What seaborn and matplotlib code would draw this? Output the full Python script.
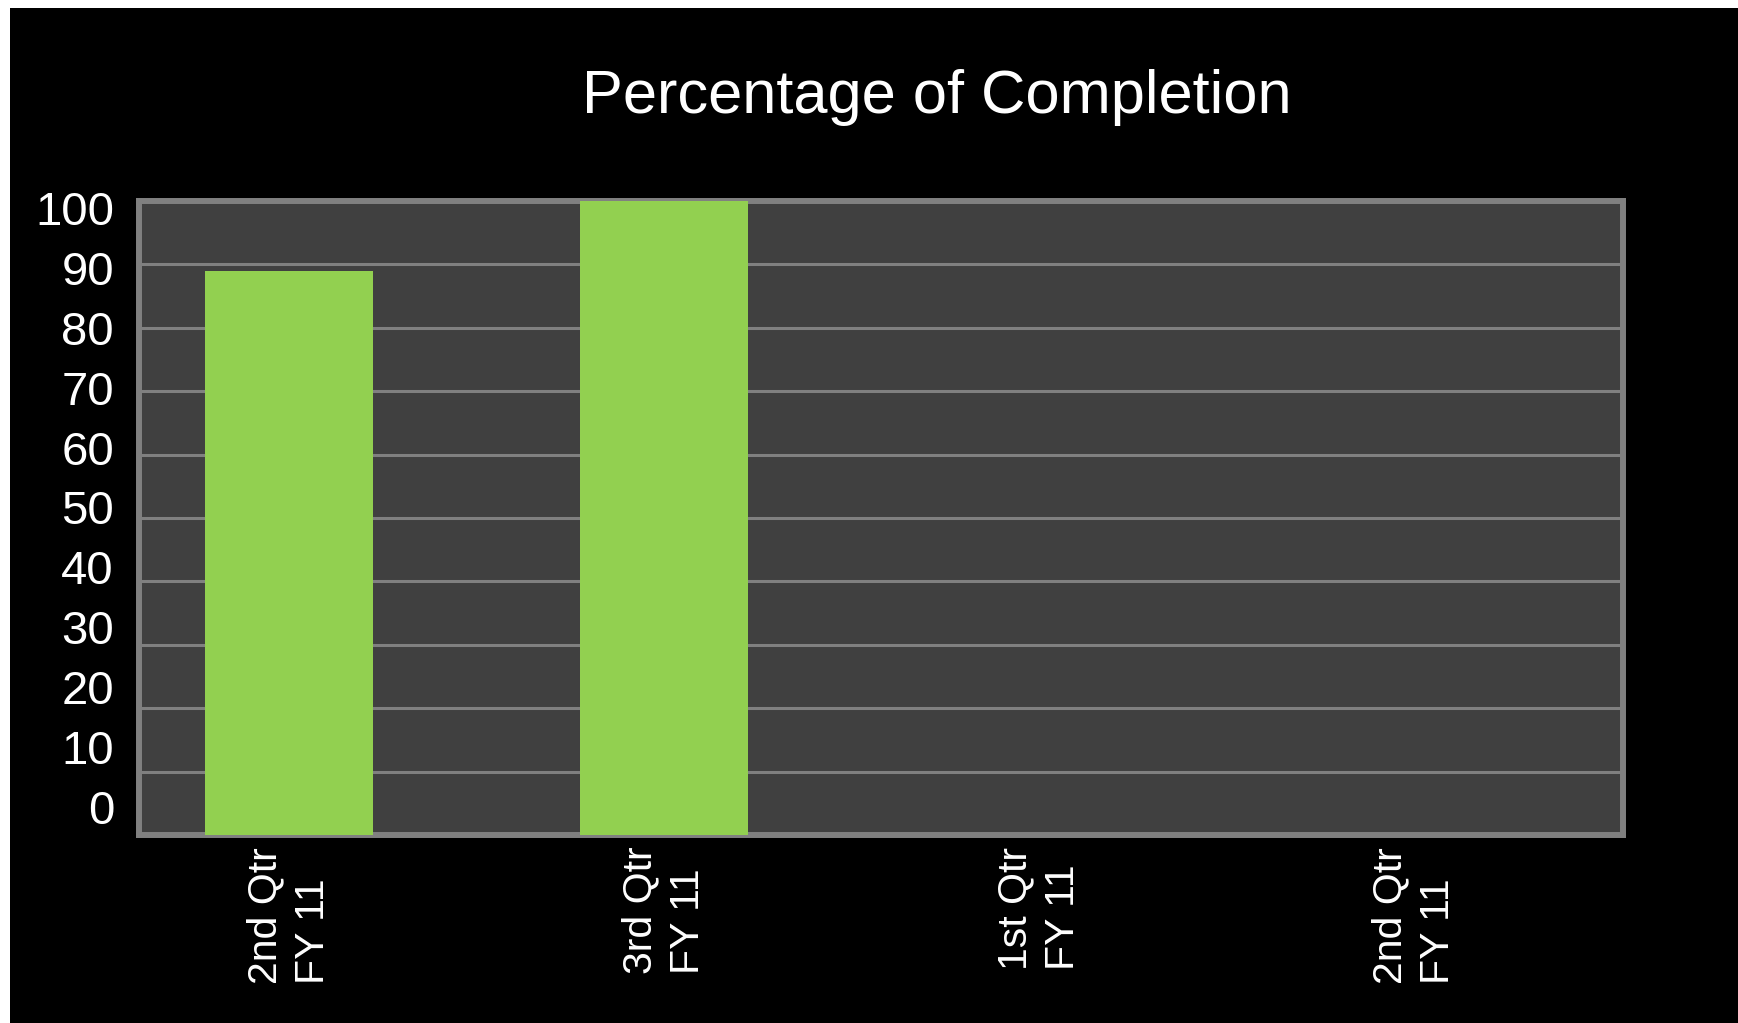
import numpy as np
import pandas as pd
import matplotlib
matplotlib.use("Agg")
import matplotlib.pyplot as plt
from matplotlib.patches import Rectangle
import seaborn as sns

# Data
quarters = ["2nd Qtr\nFY 11", "3rd Qtr\nFY 11", "1st Qtr\nFY 11", "2nd Qtr\nFY 11"]
completion = [89, 100, np.nan, np.nan]
y_ticks = list(range(0, 101, 10))

slot = list(range(len(quarters)))
df = pd.DataFrame({"slot": slot, "completion": completion})

sns.set_style("dark")
plt.rcParams["font.family"] = ["Liberation Sans", "DejaVu Sans"]

W, H = 1738, 1023
fig = plt.figure(figsize=(W / 100, H / 100), dpi=100, facecolor="white")

# black slide background, leaving a thin white margin on the top and left
fig.patches.append(Rectangle((10 / W, 0), 1, 1 - 8 / H, transform=fig.transFigure,
                             facecolor="black", edgecolor="none", zorder=-10))

left, right, top, bottom = 139, 1623, 201, 835
ax = fig.add_axes([left / W, 1 - bottom / H, (right - left) / W, (bottom - top) / H])
ax.set_facecolor("#404040")

sns.barplot(data=df, x="slot", y="completion", order=slot, color="#92D050",
            width=0.448, saturation=1, ax=ax, zorder=3, errorbar=None,
            linewidth=0, edgecolor="none")

ax.set_ylim(0, 100)
ax.set_xlim(-0.4, 3.557)
ax.set_yticks(y_ticks)
ax.yaxis.grid(True, color="#808080", linewidth=2.2)
ax.xaxis.grid(False)
ax.set_axisbelow(True)
ax.tick_params(axis="y", length=0, labelleft=False)
ax.set_xticks(slot)
ax.set_xticklabels(quarters, rotation=90, color="white", fontsize=29.5,
                   va="top", ha="center", multialignment="left", linespacing=1.32)
ax.tick_params(axis="x", length=0, pad=8.5)
ax.set_xlabel("")
ax.set_ylabel("")
for s in ax.spines.values():
    s.set_visible(True)
    s.set_color("#808080")
    s.set_linewidth(4.3)

# value labels on the left, on their own scale
ax2 = ax.twinx()
ax2.set_ylim(-4.68, 101.17)
ax2.set_yticks(y_ticks)
ax2.set_yticklabels([str(v) for v in y_ticks])
ax2.yaxis.tick_left()
ax2.tick_params(axis="y", length=0, pad=18, labelsize=34, labelcolor="white")
ax2.grid(False)
for s in ax2.spines.values():
    s.set_visible(False)

fig.text(937 / W, 1 - 113 / H, "Percentage of Completion", color="white",
         fontsize=44.2, ha="center", va="baseline")

fig.savefig("out.png", dpi=100, facecolor=fig.get_facecolor())
